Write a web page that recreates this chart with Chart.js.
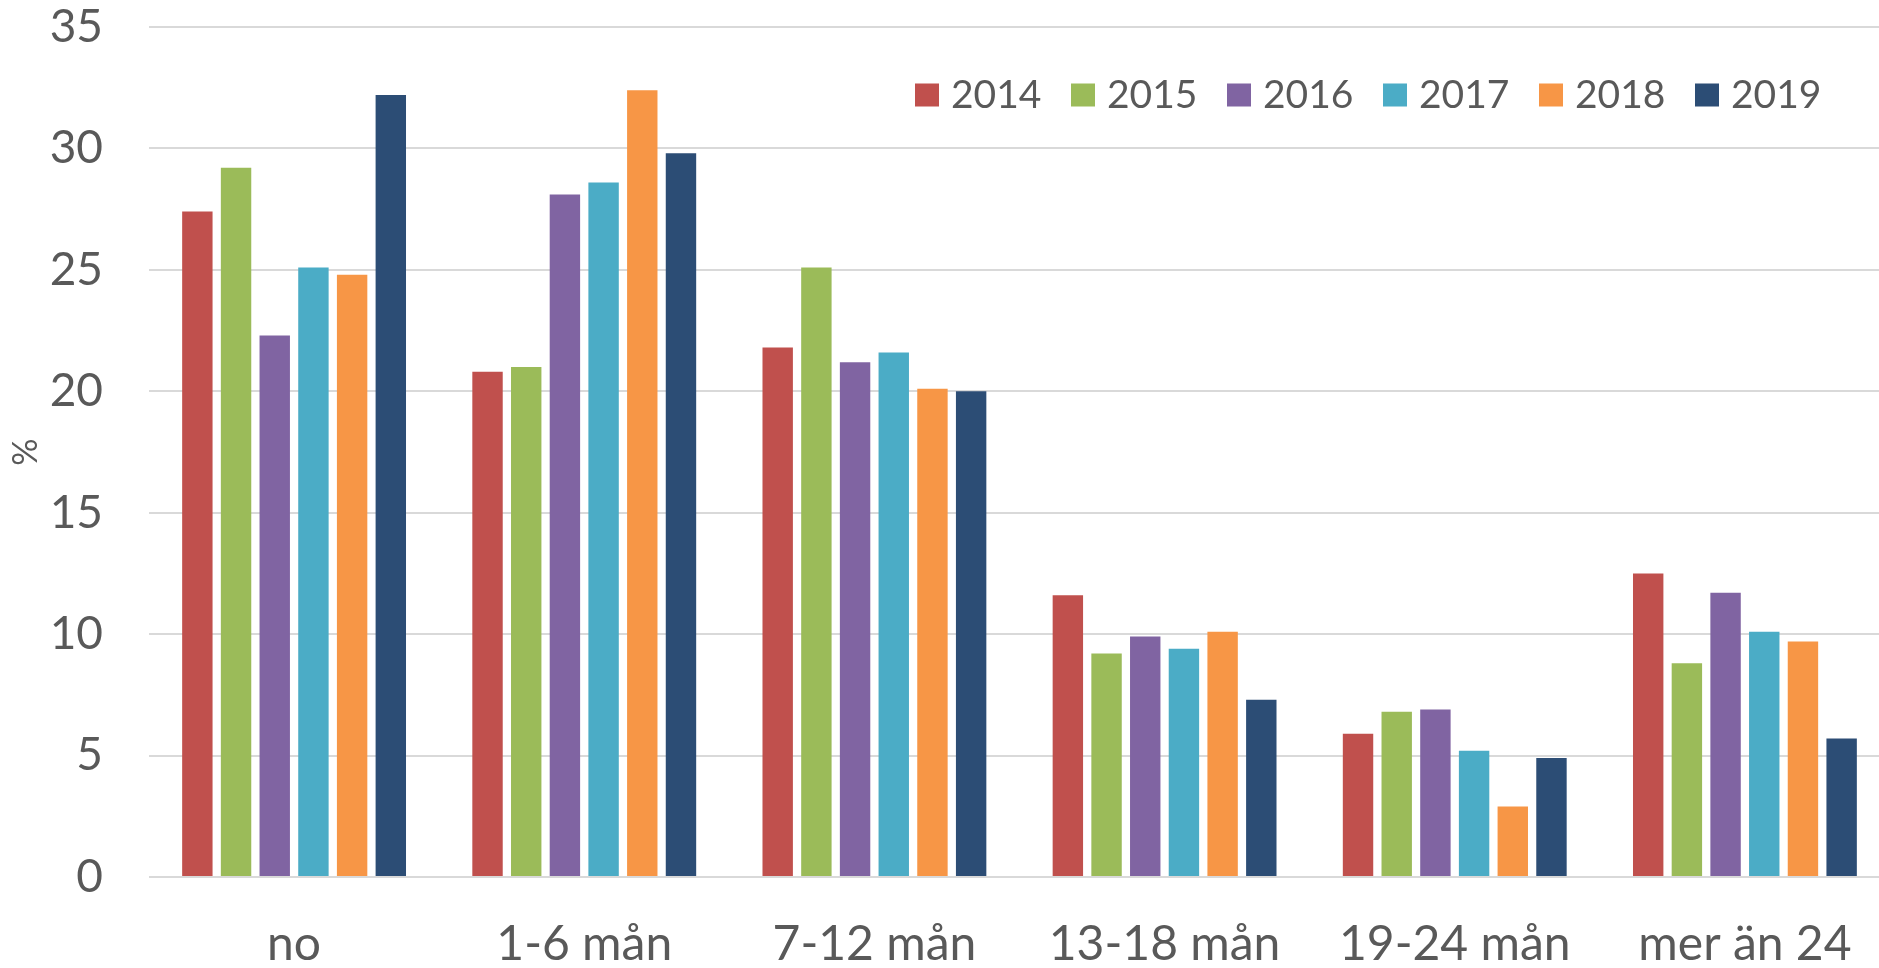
<!DOCTYPE html>
<html>
<head>
<meta charset="utf-8">
<script src="https://cdn.jsdelivr.net/npm/chart.js@4"></script>
<style>
  html, body { margin: 0; padding: 0; background: #ffffff; overflow: hidden; }
  #wrap { width: 1879px; height: 968px; overflow: hidden; }
  #c { display: block; }
</style>
</head>
<body>
<div id="wrap"><canvas id="c" width="1890" height="968"></canvas></div>
<script>
const categories = ["no", "1-6 mån", "7-12 mån", "13-18 mån", "19-24 mån", "mer än 24"];
const years = ["2014", "2015", "2016", "2017", "2018", "2019"];
const v2014 = [27.4, 20.8, 21.8, 11.6, 5.9, 12.5];
const v2015 = [29.2, 21.0, 25.1, 9.2, 6.8, 8.8];
const v2016 = [22.3, 28.1, 21.2, 9.9, 6.9, 11.7];
const v2017 = [25.1, 28.6, 21.6, 9.4, 5.2, 10.1];
const v2018 = [24.8, 32.4, 20.1, 10.1, 2.9, 9.7];
const v2019 = [32.2, 29.8, 20.0, 7.3, 4.9, 5.7];
const seriesValues = [v2014, v2015, v2016, v2017, v2018, v2019];
const colors = ["#C0504D", "#9BBB59", "#8064A2", "#4BACC6", "#F79646", "#2C4D75"];
const yTicks = [0, 5, 10, 15, 20, 25, 30, 35];
const yTitle = "%";

const FONT = "Lato, 'Open Sans', sans-serif";
const TEXT = "#595959";

const legendPlugin = {
  id: 'customLegend',
  afterDraw(chart) {
    const ctx = chart.ctx;
    const ds = chart.data.datasets;
    const startX = 915, pitch = 156, boxW = 24, boxH = 23, cy = 95;
    ctx.save();
    ctx.font = "39px " + FONT;
    ctx.textBaseline = "middle";
    ctx.textAlign = "left";
    ds.forEach((d, i) => {
      const x = startX + i * pitch;
      ctx.fillStyle = d.backgroundColor;
      ctx.fillRect(x, cy - boxH / 2, boxW, boxH);
      ctx.fillStyle = TEXT;
      ctx.fillText(d.label, x + 36, cy);
    });
    ctx.restore();
  }
};

new Chart(document.getElementById('c'), {
  type: 'bar',
  data: {
    labels: categories,
    datasets: years.map((y, i) => ({
      label: y,
      data: seriesValues[i],
      backgroundColor: colors[i],
      borderWidth: 0,
      categoryPercentage: 0.80,
      barPercentage: 0.786
    }))
  },
  options: {
    responsive: false,
    animation: false,
    layout: { padding: { top: 27, right: 0, left: 0, bottom: 0 } },
    plugins: {
      legend: { display: false },
      tooltip: { enabled: false }
    },
    scales: {
      x: {
        grid: { display: false, drawTicks: false },
        border: { display: false },
        ticks: {
          color: TEXT,
          font: { family: FONT, size: 48 },
          padding: 39,
          maxRotation: 0,
          autoSkip: false
        },
        afterFit(scale) {
          scale.height = 91;
          scale.paddingLeft = 0; scale.paddingRight = 0;
          scale.paddingTop = 0; scale.paddingBottom = 0;
        }
      },
      y: {
        min: 0,
        max: 35,
        afterBuildTicks(scale) { scale.ticks = yTicks.map(v => ({ value: v })); },
        grid: { color: "#D9D9D9", lineWidth: 2, drawTicks: false },
        border: { display: false },
        ticks: {
          color: TEXT,
          font: { family: FONT, size: 46 },
          padding: 46
        },
        title: {
          display: true,
          text: yTitle,
          color: TEXT,
          font: { family: FONT, size: 34 },
          padding: { top: 6, bottom: 0 }
        },
        afterFit(scale) {
          scale.width = 149;
          scale.paddingTop = 0; scale.paddingBottom = 0;
          scale.paddingLeft = 0; scale.paddingRight = 0;
        }
      }
    }
  },
  plugins: [legendPlugin]
});
</script>
</body>
</html>
